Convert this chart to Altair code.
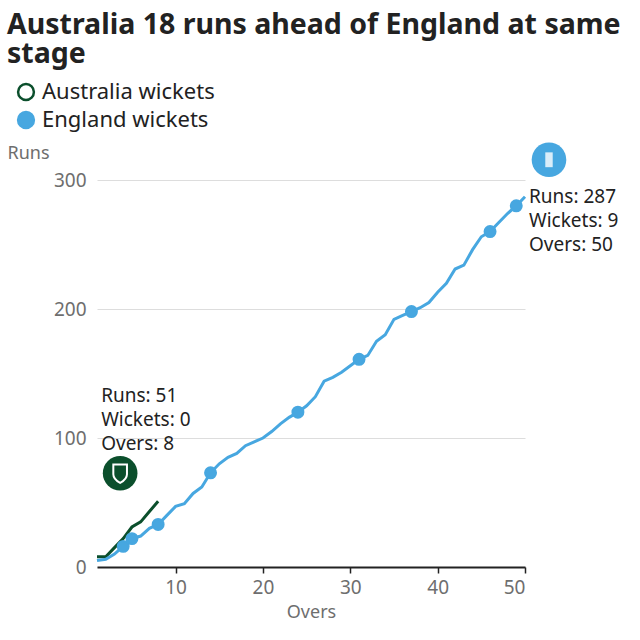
import altair as alt
import pandas as pd

# ---- data ----
eng_overs = list(range(1, 51))
eng_runs = [5, 6, 10, 16, 22, 24, 30, 33, 40, 47,
            49, 57, 62, 73, 80, 85, 88, 94, 97, 100,
            105, 111, 116, 120, 125, 132, 144, 147, 151, 156,
            161, 164, 175, 180, 192, 195, 198, 201, 205, 213,
            220, 231, 234, 246, 256, 260, 267, 274, 280, 287]
aus_overs = list(range(1, 9))
aus_runs = [8, 8, 15, 22, 31, 35, 43, 51]
eng_wicket_overs = [4, 5, 8, 14, 24, 31, 37, 46, 49]
aus_wickets = 0
eng_wickets = 9

FONT = "Noto Sans"
GREEN = "#0b4f2c"
BLUE = "#47a7e0"
GREY = "#6e6e6e"

lines_df = pd.DataFrame({
    "over": aus_overs + eng_overs,
    "runs": aus_runs + eng_runs,
    "team": ["Australia"] * len(aus_overs) + ["England"] * len(eng_overs),
})
wk_df = pd.DataFrame({
    "over": eng_wicket_overs,
    "runs": [eng_runs[o - 1] for o in eng_wicket_overs],
    "legend": ["England wickets"] * len(eng_wicket_overs),
})
aus_end = pd.DataFrame({"over": [aus_overs[-1]], "runs": [aus_runs[-1]],
                        "label": [f"Runs: {aus_runs[-1]}\nWickets: {aus_wickets}\nOvers: {aus_overs[-1]}"]})
eng_end = pd.DataFrame({"over": [eng_overs[-1]], "runs": [eng_runs[-1]],
                        "label": [f"Runs: {eng_runs[-1]}\nWickets: {eng_wickets}\nOvers: {eng_overs[-1]}"]})

xs = alt.Scale(domain=[1, 50], nice=False, zero=False)
ys = alt.Scale(domain=[0, 300], nice=False)

x_enc = alt.X("over:Q", scale=xs, axis=alt.Axis(
    values=[10, 20, 30, 40, 50], title="Overs", grid=False,
    domainColor="#222222", domainWidth=2, tickColor="#222222", tickSize=6, tickWidth=1.5,
    labelFontSize=19, labelColor=GREY, labelPadding=5, labelFont=FONT,
    titleFontSize=18, titleColor=GREY, titleFontWeight="normal", titleFont=FONT, titlePadding=6))
y_enc = alt.Y("runs:Q", scale=ys, axis=alt.Axis(
    values=[0, 100, 200, 300], title="Runs", titleAngle=0, titleX=-90, titleY=-27,
    titleAlign="left", titleBaseline="middle", titleFontSize=18, titleColor=GREY,
    titleFontWeight="normal", titleFont=FONT,
    domain=False, ticks=False, labelPadding=11, labelFontSize=19, labelColor=GREY, labelFont=FONT,
    gridColor="#dddddd", gridWidth=1))

lines = alt.Chart(lines_df).mark_line(strokeWidth=3).encode(
    x=x_enc, y=y_enc,
    color=alt.Color("team:N", scale=alt.Scale(domain=["Australia", "England"], range=[GREEN, BLUE]), legend=None),
    detail="team:N",
)

leg_dom = ["Australia wickets", "England wickets"]
legend = alt.Legend(title=None, orient="none", legendX=-82, legendY=-99, direction="vertical",
                    labelFontSize=22, labelColor="#222222", labelFont=FONT, labelLimit=400, symbolSize=250,
                    symbolStrokeWidth=2.5, rowPadding=2, labelOffset=5, padding=0, symbolType="circle")
points = alt.Chart(wk_df).mark_circle(size=120, opacity=1, strokeWidth=2).encode(
    x="over:Q", y="runs:Q",
    fill=alt.Fill("legend:N", scale=alt.Scale(domain=leg_dom, range=["#ffffff", BLUE]), legend=legend),
    stroke=alt.Stroke("legend:N", scale=alt.Scale(domain=leg_dom, range=[GREEN, BLUE]), legend=legend),
)

SHIELD = "M -0.7 -0.9 L 0.7 -0.9 L 0.7 0.1 Q 0.7 0.6 0 1 Q -0.7 0.6 -0.7 0.1 Z"

aus_logo = alt.Chart(aus_end).mark_circle(size=1200, color=GREEN, opacity=1, xOffset=-38, yOffset=-28).encode(
    x="over:Q", y="runs:Q")
aus_crest = alt.Chart(aus_end).mark_point(shape=SHIELD, size=380, filled=False, stroke="white", strokeWidth=2,
                                          opacity=1, xOffset=-38, yOffset=-28).encode(x="over:Q", y="runs:Q")
eng_logo = alt.Chart(eng_end).mark_circle(size=1200, color=BLUE, opacity=1, xOffset=24, yOffset=-37).encode(
    x="over:Q", y="runs:Q")
eng_crest = alt.Chart(eng_end).mark_point(shape="M -0.5 -1 L 0.5 -1 L 0.5 1 L -0.5 1 Z", size=220, filled=True,
                                          fill="white", opacity=0.8, xOffset=24, yOffset=-37).encode(
    x="over:Q", y="runs:Q")

aus_text = alt.Chart(aus_end).mark_text(align="left", baseline="top", lineBreak="\n", lineHeight=24,
                                        fontSize=19, font=FONT, color="#222222", dx=-57, dy=-114).encode(
    x="over:Q", y="runs:Q", text="label:N")
eng_text = alt.Chart(eng_end).mark_text(align="left", baseline="top", lineBreak="\n", lineHeight=24,
                                        fontSize=19, font=FONT, color="#222222", dx=4, dy=-9).encode(
    x="over:Q", y="runs:Q", text="label:N")

chart = alt.layer(lines, points, aus_logo, aus_crest, eng_logo, eng_crest, aus_text, eng_text).properties(
    width=428, height=387,
    background="white",
    autosize=alt.AutoSizeParams(type="none"),
    padding={"left": 97, "top": 180, "right": 115, "bottom": 73},
    title=alt.TitleParams(["Australia 18 runs ahead of England at same", "stage"],
                          anchor="start", fontSize=28.5, fontWeight="bold", font=FONT, color="#222222",
                          lineHeight=29, dx=0, dy=-9),
).configure_view(stroke=None)

chart.save("out.html", embed_options={"renderer": "svg", "actions": False})
